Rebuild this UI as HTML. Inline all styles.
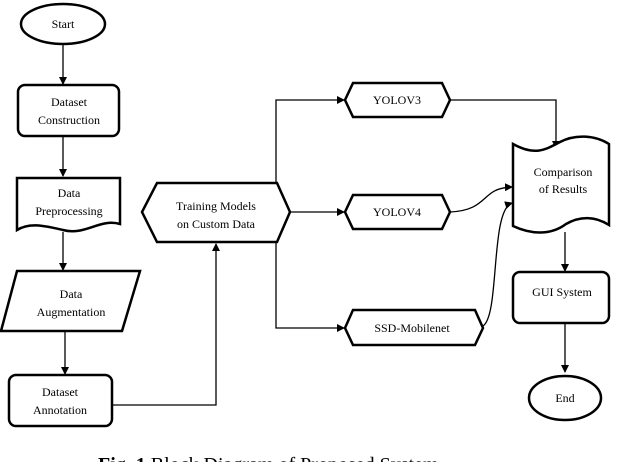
<!DOCTYPE html>
<html><head><style>body{margin:0;background:#fff}svg{display:block}text{font-family:"Liberation Serif","DejaVu Serif",serif}</style></head><body>
<svg width="618" height="462" viewBox="0 0 618 462" xmlns="http://www.w3.org/2000/svg" font-size="12">
<defs><marker id="a" markerWidth="8" markerHeight="8" refX="7" refY="4" orient="auto" markerUnits="userSpaceOnUse"><path d="M0,0 L8,4 L0,8 z" fill="#000"/></marker></defs>
<g fill="none" stroke="#000" stroke-width="1.3">
<line x1="63" y1="44" x2="63" y2="84" marker-end="url(#a)"/>
<line x1="63" y1="136" x2="63" y2="176" marker-end="url(#a)"/>
<line x1="63" y1="232" x2="63" y2="270" marker-end="url(#a)"/>
<line x1="65" y1="331" x2="65" y2="374" marker-end="url(#a)"/>
<polyline points="112,405 216,405 216,244" marker-end="url(#a)"/>
<polyline points="276,183 276,100 344,100" marker-end="url(#a)"/>
<line x1="290" y1="212" x2="344" y2="212" marker-end="url(#a)"/>
<polyline points="276,242 276,328 344,328" marker-end="url(#a)"/>
<polyline points="450,100 556,100 556,148" marker-end="url(#a)"/>
<path d="M450,212 C490,210 480,188 512,187" marker-end="url(#a)"/>
<path d="M483,326 C500,315 490,210 512,203" marker-end="url(#a)"/>
<line x1="565" y1="232" x2="565" y2="271" marker-end="url(#a)"/>
<line x1="565" y1="323" x2="565" y2="372" marker-end="url(#a)"/>
</g>
<g fill="#fff" stroke="#000" stroke-width="2.5">
<ellipse cx="63" cy="24" rx="42" ry="20"/>
<rect x="18" y="85" width="101" height="51" rx="7"/>
<path d="M17,178 H120 V224 C100,218 85,236 63,230 C45,226 30,222 17,230 Z"/>
<path d="M17,271 H140 L122,331 H1 Z"/>
<rect x="9" y="375" width="103" height="51" rx="7"/>
<path d="M157,183 H277 L290,212 L277,242 H157 L142,212 Z"/>
<path d="M353,83 H442 L450,100 L442,117 H353 L345,100 Z"/>
<path d="M353,195 H442 L450,212 L442,229 H353 L345,212 Z"/>
<path d="M353,310 H475 L483,328 L475,345 H353 L345,328 Z"/>
<path d="M513,144 C535,156 545,150 560,142 C575,134 595,135 609,144 V225 C595,216 580,216 566,224 C550,236 530,234 513,226 Z"/>
<rect x="513" y="272" width="96" height="51" rx="7"/>
<ellipse cx="565" cy="398" rx="36" ry="22"/>
</g>
<g text-anchor="middle">
<text x="63" y="28">Start</text>
<text x="69" y="106">Dataset</text><text x="69" y="124">Construction</text>
<text x="69" y="197">Data</text><text x="69" y="215">Preprocessing</text>
<text x="71" y="298">Data</text><text x="71" y="316">Augmentation</text>
<text x="60" y="396">Dataset</text><text x="60" y="414">Annotation</text>
<text x="216" y="210">Training Models</text><text x="216" y="228">on Custom Data</text>
<text x="397" y="104">YOLOV3</text>
<text x="397" y="216">YOLOV4</text>
<text x="412" y="332">SSD-Mobilenet</text>
<text x="563" y="176">Comparison</text><text x="563" y="193">of Results</text>
<text x="562" y="296">GUI System</text>
<text x="565" y="402">End</text>
</g>
<text x="98" y="471" font-size="20"><tspan font-weight="bold">Fig. 1</tspan> Block Diagram of Proposed System</text>
</svg>
</body></html>
